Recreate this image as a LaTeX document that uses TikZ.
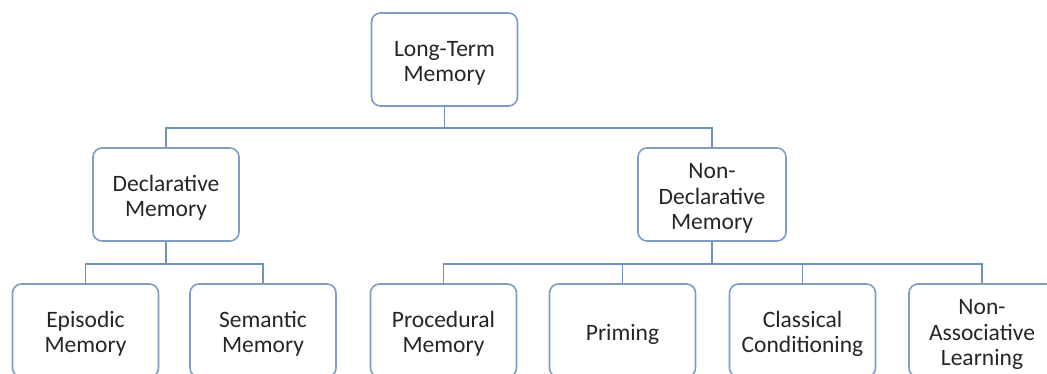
\documentclass[tikz,border=0pt]{standalone}
\usepackage{fontspec}
\setmainfont{Carlito}
\usetikzlibrary{calc}
\definecolor{boxblue}{HTML}{7E9CC4}
\definecolor{lineblue}{HTML}{6F92BF}
\newcommand{\mtxt}[1]{\vbox{\kern9pt\hbox{\begin{tabular}{@{}c@{}}#1\end{tabular}}}}
\begin{document}
\begin{tikzpicture}[x=1pt,y=1pt,
  mbox/.style={draw=boxblue,line width=1.6pt,rounded corners=9pt,fill=white,
    minimum width=146pt,minimum height=93pt,inner sep=0pt,align=center,
    font=\fontsize{23.5}{25.5}\selectfont,text=black!85},
  conn/.style={draw=lineblue,line width=1.4pt}]
\useasboundingbox (0,0) rectangle (1047,373);
\clip (0,0) rectangle (1047,373);
\fill[white] (0,0) rectangle (1047,373);
% nodes
\node[mbox] (ltm) at (444.5,313.5) {\mtxt{Long-Term\\Memory}};
\node[mbox] (decl) at (166,178.5) {\mtxt{Declarative\\Memory}};
\node[mbox,minimum width=148pt] (ndecl) at (712,178.5) {\mtxt{Non-\\Declarative\\Memory}};
\node[mbox] (epi) at (85.5,42.5) {\mtxt{Episodic\\Memory}};
\node[mbox] (sem) at (263,42.5) {\mtxt{Semantic\\Memory}};
\node[mbox] (proc) at (443.5,42.5) {\mtxt{Procedural\\Memory}};
\node[mbox] (prim) at (622.5,42.5) {\mtxt{Priming}};
\node[mbox] (class) at (802.5,42.5) {\mtxt{Classical\\Conditioning}};
\node[mbox] (nassoc) at (982,42.5) {\mtxt{Non-\\Associative\\Learning}};
% junctions
\coordinate (j1) at ($(ltm.south)+(0,-21)$);
\coordinate (j2) at ($(decl.south)+(0,-22)$);
\coordinate (j3) at ($(ndecl.south)+(0,-22)$);
% connectors
\draw[conn] (ltm.south) -- (j1);
\draw[conn] (decl.north) |- (j1) -| (ndecl.north);
\draw[conn] (decl.south) -- (j2);
\draw[conn] (epi.north) |- (j2) -| (sem.north);
\draw[conn] (ndecl.south) -- (j3);
\draw[conn] (proc.north) |- (j3) -| (nassoc.north);
\draw[conn] (prim.north) -- (prim.north |- j3);
\draw[conn] (class.north) -- (class.north |- j3);
\end{tikzpicture}
\end{document}
